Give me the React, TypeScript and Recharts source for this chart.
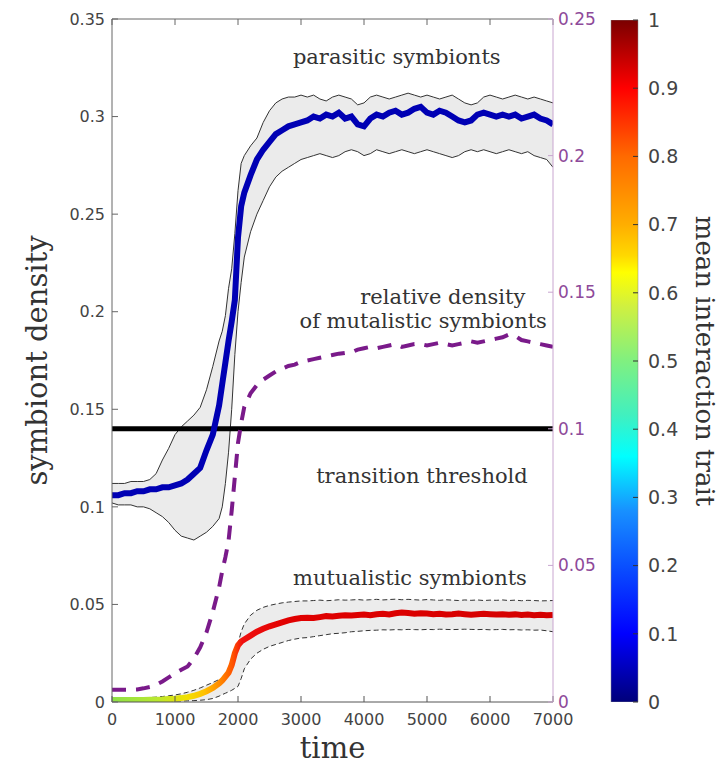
import React from 'react';
import {
  ComposedChart,
  Line,
  Area,
  XAxis,
  YAxis,
  ReferenceLine,
  ReferenceDot,
  Label,
  BarChart,
  Bar,
} from 'recharts';

// ---------- data ----------
const times = [
  0, 100, 200, 300, 400, 500, 600, 700, 800, 900, 1000, 1100, 1200, 1300, 1400, 1500, 1600, 1700,
  1750, 1800, 1850, 1900, 1950, 2000, 2050,
  2100, 2200, 2300, 2400, 2500, 2600, 2700, 2800, 2900, 3000,
  3100, 3200, 3300, 3400, 3500, 3600, 3700, 3800, 3900, 4000,
  4100, 4200, 4300, 4400, 4500, 4600, 4700, 4800, 4900, 5000,
  5100, 5200, 5300, 5400, 5500, 5600, 5700, 5800, 5900, 6000,
  6100, 6200, 6300, 6400, 6500, 6600, 6700, 6800, 6900, 7000,
];

const parasiticMean = [
  0.106, 0.106, 0.107, 0.107, 0.108, 0.108, 0.109, 0.109, 0.110, 0.110, 0.111, 0.112, 0.114, 0.117, 0.120, 0.129, 0.137, 0.152,
  0.163, 0.174, 0.185, 0.195, 0.206, 0.238, 0.254,
  0.261, 0.270, 0.278, 0.283, 0.287, 0.291, 0.293, 0.295, 0.296, 0.297,
  0.298, 0.300, 0.299, 0.301, 0.300, 0.302, 0.299, 0.300, 0.296, 0.295,
  0.299, 0.301, 0.300, 0.302, 0.303, 0.301, 0.302, 0.304, 0.305, 0.302,
  0.301, 0.303, 0.302, 0.300, 0.298, 0.297, 0.298, 0.301, 0.302, 0.301,
  0.300, 0.301, 0.300, 0.301, 0.299, 0.300, 0.301, 0.299, 0.298, 0.296,
];

const parasiticUpper = [
  0.112, 0.112, 0.112, 0.113, 0.113, 0.113, 0.114, 0.117, 0.124, 0.130, 0.137, 0.141, 0.144, 0.147, 0.151, 0.160, 0.172, 0.185,
  0.190, 0.198, 0.212, 0.222, 0.240, 0.262, 0.276,
  0.280, 0.285, 0.289, 0.297, 0.303, 0.307, 0.309, 0.310, 0.310, 0.311,
  0.310, 0.311, 0.309, 0.308, 0.310, 0.311, 0.310, 0.309, 0.306, 0.307,
  0.310, 0.311, 0.310, 0.309, 0.310, 0.311, 0.312, 0.311, 0.310, 0.311,
  0.310, 0.309, 0.310, 0.311, 0.309, 0.307, 0.306, 0.307, 0.310, 0.311,
  0.310, 0.309, 0.310, 0.311, 0.310, 0.309, 0.310, 0.309, 0.308, 0.307,
];

const parasiticLower = [
  0.102, 0.101, 0.101, 0.101, 0.100, 0.100, 0.099, 0.097, 0.095, 0.092, 0.088, 0.085, 0.084, 0.083, 0.085, 0.087, 0.090, 0.094,
  0.100, 0.112, 0.128, 0.150, 0.178, 0.200, 0.215,
  0.228, 0.241, 0.250, 0.257, 0.264, 0.269, 0.272, 0.274, 0.276, 0.278,
  0.279, 0.280, 0.281, 0.280, 0.279, 0.280, 0.282, 0.283, 0.282, 0.280,
  0.281, 0.283, 0.282, 0.281, 0.282, 0.283, 0.282, 0.281, 0.282, 0.283,
  0.282, 0.281, 0.280, 0.279, 0.280, 0.282, 0.283, 0.282, 0.283, 0.282,
  0.281, 0.282, 0.283, 0.282, 0.281, 0.282, 0.280, 0.279, 0.278, 0.274,
];

const relativeMutualistic = [
  0.0045, 0.0045, 0.0045, 0.0045, 0.0046, 0.005, 0.0055, 0.0063, 0.0075, 0.009, 0.0105, 0.0118, 0.013, 0.016, 0.02, 0.0255, 0.033, 0.042,
  0.048, 0.053, 0.059, 0.07, 0.0824, 0.0948, 0.102,
  0.108, 0.113, 0.116, 0.118, 0.1195, 0.121, 0.122, 0.123, 0.1235, 0.1245,
  0.125, 0.1255, 0.126, 0.1265, 0.127, 0.1275, 0.1278, 0.128, 0.129, 0.1295,
  0.13, 0.1295, 0.13, 0.1305, 0.131, 0.13, 0.1305, 0.131, 0.131, 0.1305,
  0.131, 0.1315, 0.131, 0.1305, 0.131, 0.1315, 0.132, 0.1315, 0.132, 0.1325,
  0.133, 0.1335, 0.1345, 0.134, 0.1325, 0.132, 0.1315, 0.131, 0.1305, 0.13,
];

const mutualisticMean = [
  0.001, 0.001, 0.001, 0.001, 0.001, 0.001, 0.0011, 0.0012, 0.0013, 0.0015, 0.0017, 0.002, 0.0025, 0.0032, 0.0042, 0.0055, 0.0072, 0.0095,
  0.011, 0.013, 0.015, 0.019, 0.025, 0.029, 0.031,
  0.032, 0.034, 0.036, 0.0375, 0.0388, 0.0398, 0.0408, 0.0418, 0.0425, 0.043,
  0.0432, 0.043, 0.0435, 0.044, 0.0438, 0.0442, 0.0445, 0.0443, 0.0446, 0.0448,
  0.0445, 0.045, 0.0452, 0.0449, 0.0455, 0.0458, 0.0456, 0.0452, 0.0455, 0.0453,
  0.045, 0.0452, 0.0448, 0.045, 0.0453, 0.045, 0.0447, 0.045, 0.0452, 0.045,
  0.0448, 0.045, 0.0447, 0.0449, 0.0446, 0.0448, 0.0445, 0.0447, 0.0444, 0.0446,
];

const mutualisticUpper = [
  0.002, 0.002, 0.002, 0.002, 0.0021, 0.0022, 0.0023, 0.0025, 0.0028, 0.0032, 0.0036, 0.0042, 0.005, 0.006, 0.0072, 0.0086, 0.01, 0.0115,
  0.0122, 0.013, 0.014, 0.016, 0.022, 0.03, 0.036,
  0.04, 0.0445, 0.047, 0.0485, 0.0495, 0.0502, 0.0508, 0.0512, 0.0515, 0.0518,
  0.0518, 0.052, 0.0522, 0.0519, 0.0521, 0.0524, 0.0522, 0.0523, 0.0525, 0.0522,
  0.0524, 0.0526, 0.0523, 0.0525, 0.0527, 0.0524, 0.0526, 0.0524, 0.0522, 0.0525,
  0.0523, 0.0521, 0.0524, 0.0522, 0.052, 0.0523, 0.0521, 0.0523, 0.052, 0.0522,
  0.0521, 0.0523, 0.052, 0.0522, 0.0519, 0.0521, 0.052, 0.0518, 0.0519, 0.052,
];

const mutualisticLower = [
  0.0002, 0.0002, 0.0002, 0.0002, 0.0002, 0.0002, 0.0003, 0.0003, 0.0003, 0.0004, 0.0004, 0.0005, 0.0006, 0.0007, 0.0009, 0.0012, 0.0018, 0.003,
  0.0038, 0.0045, 0.0052, 0.006, 0.007, 0.008, 0.012,
  0.017, 0.022, 0.025, 0.027, 0.0285, 0.0295, 0.0305, 0.0315, 0.0322, 0.0328,
  0.033, 0.0335, 0.034, 0.0345, 0.035, 0.0352, 0.0355, 0.036, 0.0362, 0.0365,
  0.0367, 0.0368, 0.037, 0.0369, 0.0371, 0.037, 0.0372, 0.0371, 0.037, 0.0372,
  0.0371, 0.0373, 0.0372, 0.0371, 0.0372, 0.0373, 0.0372, 0.0371, 0.0372, 0.037,
  0.0371, 0.0372, 0.037, 0.0371, 0.0369, 0.037, 0.0368, 0.0369, 0.0365, 0.036,
];

const thresholdValue = 0.14;

const timeTicks = [0, 1000, 2000, 3000, 4000, 5000, 6000, 7000];
const densityTicks = [0, 0.05, 0.1, 0.15, 0.2, 0.25, 0.3, 0.35];
const relativeTicks = [0, 0.05, 0.1, 0.15, 0.2, 0.25];
const traitTicks = [0, 0.1, 0.2, 0.3, 0.4, 0.5, 0.6, 0.7, 0.8, 0.9, 1];
const colorbarData = [{ name: 'trait', v: 1 }];

const data = times.map((t, i) => ({
  t,
  pMean: parasiticMean[i],
  pUp: parasiticUpper[i],
  pLow: parasiticLower[i],
  pBand: [parasiticLower[i], parasiticUpper[i]],
  mMean: mutualisticMean[i],
  mUp: mutualisticUpper[i],
  mLow: mutualisticLower[i],
  mBand: [mutualisticLower[i], mutualisticUpper[i]],
  rel: relativeMutualistic[i],
}));

// ---------- styles ----------
const SANS = 'DejaVu Sans';
const SERIF = 'DejaVu Serif';
const tickStyle = { fontSize: 16, fill: '#444', fontFamily: SANS };
const purpleTick = { fontSize: 17, fill: '#8e4a9a', fontFamily: SANS };
const annot = { fill: '#333', fontSize: 21, fontFamily: SERIF };

export default function App() {
  return (
    <div style={{ position: 'absolute', left: 0, top: 0, width: 722, height: 767, background: '#fff' }}>
      <div style={{ position: 'absolute', left: 0, top: 0 }}>
        <ComposedChart width={722} height={767} data={data} margin={{ top: 18, right: 119, bottom: 35, left: 0 }}>
          <defs>
            <linearGradient id="mutGrad" x1="0" y1="0" x2="1" y2="0">
              <stop offset="0" stopColor="#8ee048" />
              <stop offset="0.1" stopColor="#b8e830" />
              <stop offset="0.17" stopColor="#f2e000" />
              <stop offset="0.21" stopColor="#ffc000" />
              <stop offset="0.25" stopColor="#ff8000" />
              <stop offset="0.275" stopColor="#ff5000" />
              <stop offset="0.295" stopColor="#f01010" />
              <stop offset="0.4" stopColor="#e00000" />
              <stop offset="1" stopColor="#d40000" />
            </linearGradient>
          </defs>
          <XAxis
            dataKey="t"
            type="number"
            domain={[0, 7000]}
            ticks={timeTicks}
            tick={tickStyle}
            tickSize={-6}
            tickMargin={18}
            height={30}
            stroke="#555"
            allowDataOverflow
          >
            <Label value="time" position="center" dy={31} fill="#333" fontSize={29} fontFamily={SERIF} />
          </XAxis>
          <XAxis
            xAxisId="top"
            dataKey="t"
            type="number"
            orientation="top"
            domain={[0, 7000]}
            ticks={timeTicks}
            tickFormatter={() => ''}
            tickSize={-6}
            height={1}
            stroke="#666"
            allowDataOverflow
          />
          <YAxis
            yAxisId="left"
            domain={[0, 0.35]}
            ticks={densityTicks}
            tick={tickStyle}
            tickSize={-6}
            tickMargin={13}
            width={112}
            stroke="#666"
            allowDataOverflow
          >
            <Label value="symbiont density" angle={-90} position="center" dx={-19} fill="#333" fontSize={29} fontFamily={SERIF} />
          </YAxis>
          <YAxis
            yAxisId="right"
            orientation="right"
            domain={[0, 0.25]}
            ticks={relativeTicks}
            tick={purpleTick}
            tickSize={-5}
            tickMargin={10}
            width={50}
            stroke="#c9a6d0"
            allowDataOverflow
          />

          <Area yAxisId="left" dataKey="pBand" stroke="none" fill="#ebebeb" fillOpacity={1} isAnimationActive={false} />
          <Area yAxisId="left" dataKey="mBand" stroke="none" fill="#ececec" fillOpacity={1} isAnimationActive={false} />
          <Line yAxisId="left" dataKey="pUp" stroke="#333" strokeWidth={1} dot={false} isAnimationActive={false} />
          <Line yAxisId="left" dataKey="pLow" stroke="#333" strokeWidth={1} dot={false} isAnimationActive={false} />
          <Line yAxisId="left" dataKey="mUp" stroke="#333" strokeWidth={1} strokeDasharray="5 3" dot={false} isAnimationActive={false} />
          <Line yAxisId="left" dataKey="mLow" stroke="#333" strokeWidth={1} strokeDasharray="5 3" dot={false} isAnimationActive={false} />

          <ReferenceLine yAxisId="left" y={thresholdValue} stroke="#000" strokeWidth={5} />

          <Line yAxisId="left" dataKey="pMean" stroke="#0000b4" strokeWidth={6} dot={false} isAnimationActive={false} />
          <Line yAxisId="left" dataKey="mMean" stroke="url(#mutGrad)" strokeWidth={6} dot={false} isAnimationActive={false} />
          <Line yAxisId="right" dataKey="rel" stroke="#7a1a8a" strokeWidth={4} strokeDasharray="14 10" dot={false} isAnimationActive={false} />

          <ReferenceDot yAxisId="left" x={4520} y={0.3306} r={1} fill="none" stroke="none">
            <Label value="parasitic symbionts" position="center" {...annot} />
          </ReferenceDot>
          <ReferenceDot yAxisId="left" x={5250} y={0.2076} r={1} fill="none" stroke="none">
            <Label value="relative density" position="center" {...annot} />
          </ReferenceDot>
          <ReferenceDot yAxisId="left" x={4940} y={0.1953} r={1} fill="none" stroke="none">
            <Label value="of mutalistic symbionts" position="center" {...annot} />
          </ReferenceDot>
          <ReferenceDot yAxisId="left" x={4920} y={0.1158} r={1} fill="none" stroke="none">
            <Label value="transition threshold" position="center" {...annot} />
          </ReferenceDot>
          <ReferenceDot yAxisId="left" x={4730} y={0.064} r={1} fill="none" stroke="none">
            <Label value="mutualistic symbionts" position="center" {...annot} />
          </ReferenceDot>
        </ComposedChart>
      </div>
      <div style={{ position: 'absolute', left: 0, top: 0 }}>
        <BarChart width={722} height={767} data={colorbarData} margin={{ top: 20, right: 44, bottom: 65, left: 611 }} barCategoryGap={0}>
          <defs>
            <linearGradient id="cbGrad" x1="0" y1="0" x2="0" y2="1">
              <stop offset="0" stopColor="#7a0000" />
              <stop offset="0.1" stopColor="#ff0000" />
              <stop offset="0.2" stopColor="#ff6a00" />
              <stop offset="0.3" stopColor="#ffae00" />
              <stop offset="0.345" stopColor="#ffd800" />
              <stop offset="0.37" stopColor="#ffff00" />
              <stop offset="0.42" stopColor="#d0f040" />
              <stop offset="0.5" stopColor="#80f080" />
              <stop offset="0.58" stopColor="#40f0c0" />
              <stop offset="0.64" stopColor="#00ffff" />
              <stop offset="0.72" stopColor="#1890ff" />
              <stop offset="0.8" stopColor="#0a50ff" />
              <stop offset="0.9" stopColor="#0000ff" />
              <stop offset="1" stopColor="#00007a" />
            </linearGradient>
          </defs>
          <XAxis dataKey="name" type="category" hide />
          <YAxis
            orientation="right"
            domain={[0, 1]}
            ticks={traitTicks}
            tick={{ fontSize: 19, fill: '#444', fontFamily: SANS }}
            tickSize={-5}
            tickMargin={15}
            width={40}
            axisLine={false}
            tickLine={{ stroke: '#333' }}
            allowDataOverflow
          >
            <Label value="mean interaction trait" angle={90} position="center" dx={47} fill="#333" fontSize={26} fontFamily={SERIF} />
          </YAxis>
          <Bar dataKey="v" fill="url(#cbGrad)" stroke="#888" strokeWidth={0.5} isAnimationActive={false} />
        </BarChart>
      </div>
    </div>
  );
}
